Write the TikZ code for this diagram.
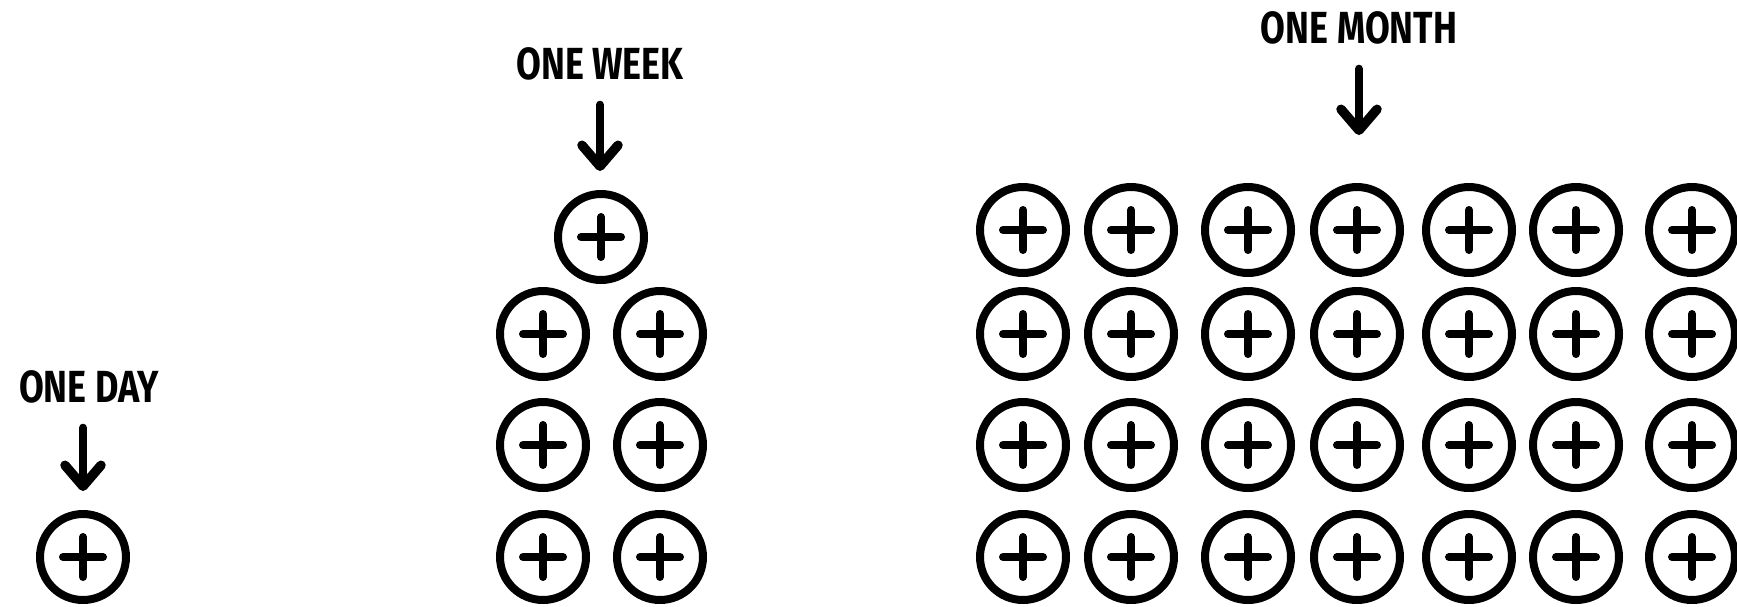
\documentclass[tikz,border=0pt]{standalone}
\usepackage{fontspec}
\usepackage{tikz}
\usetikzlibrary{positioning, arrows.meta}
\newfontfamily\handfont[FakeStretch=0.8]{Fira Sans}
\definecolor{ink}{HTML}{000000}

\begin{document}
\begin{tikzpicture}[x=0.02cm, y=-0.02cm,
  coin/.style={circle, draw=ink, line width=0.16cm, minimum size=1.72cm, inner sep=0pt,
    path picture={\draw[ink, line width=0.16cm, line cap=round]
      ([xshift=-0.4cm]path picture bounding box.center) -- ([xshift=0.4cm]path picture bounding box.center)
      ([yshift=-0.4cm]path picture bounding box.center) -- ([yshift=0.4cm]path picture bounding box.center);}},
  span/.style={font=\handfont\bfseries\fontsize{25.6}{26}\selectfont, inner sep=0pt},
  pointer/.style={ink, line width=0.16cm, line cap=round, -{Straight Barb[length=0.42cm, width=0.72cm, round, line width=0.19cm]}, shorten <=0.48cm, shorten >=0.38cm}]
\useasboundingbox (0,0) rectangle (1737,606);
% one day
\node[coin] (day) at (83,557) {};
\node[span] (daylbl) at (89,387) {ONE DAY};
\draw[pointer] (day |- daylbl.south) -- (day);
% one week
\node[coin] (w0) at (601,237) {};
\foreach \r/\y in {1/334,2/445,3/557}
{\node[coin] (w\r a) at (543,\y) {};
 \node[coin] (w\r b) at (660,\y) {};}
\node[span] (weeklbl) at (600,64) {ONE WEEK};
\draw[pointer] (weeklbl) -- (weeklbl |- w0.north);
% one month
\foreach \c/\x in {1/1023,2/1131,3/1248,4/1357,5/1469,6/1576,7/1692}
{\foreach \r/\y in {1/230,2/334,3/445,4/557}
 {\node[coin] (m\r\c) at (\x,\y) {};}}
\node[span] (monthlbl) at (1359,28) {ONE MONTH};
\draw[pointer, shorten >=0.96cm] (monthlbl) -- (monthlbl |- m14.north);
\end{tikzpicture}
\end{document}
